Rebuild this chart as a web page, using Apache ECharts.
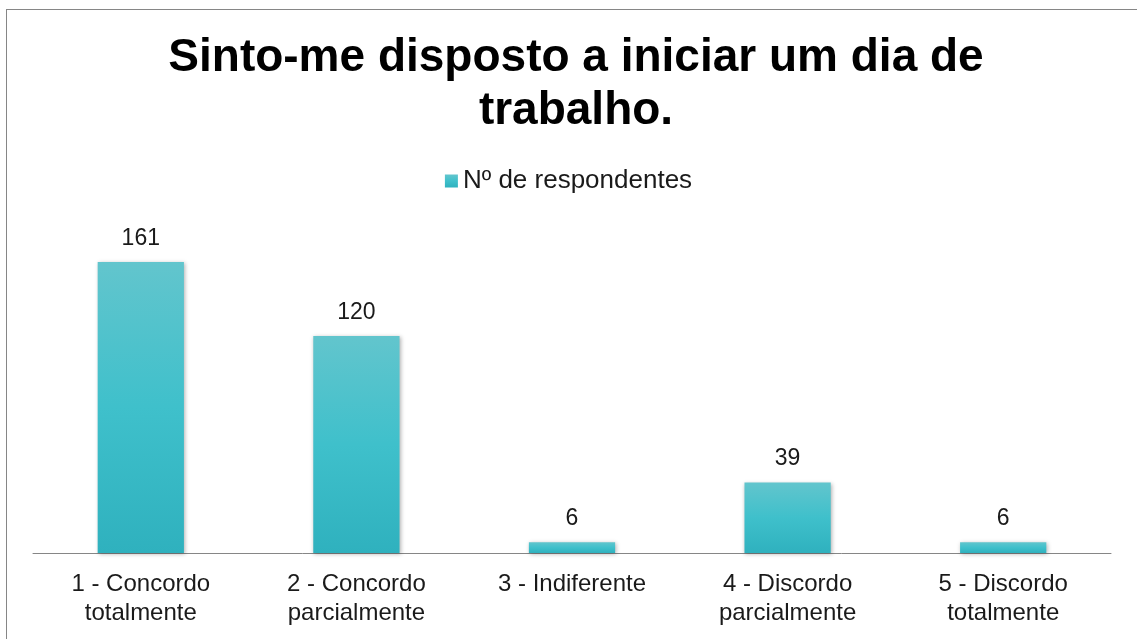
<!DOCTYPE html>
<html>
<head>
<meta charset="utf-8">
<script src="https://cdn.jsdelivr.net/npm/echarts@6/dist/echarts.min.js"></script>
<style>
  html, body { margin: 0; padding: 0; background: #fff; overflow: hidden; }
  .frame {
    position: absolute; left: 6px; top: 9px; width: 1140px; height: 640px;
    border: 1px solid #868686; box-sizing: border-box;
  }
  #chart { position: absolute; left: 0; top: 0; width: 1137px; height: 639px; }
</style>
</head>
<body>
<div class="frame"></div>
<div id="chart"></div>
<script>
// categories and values
var categories = [
  '1 - Concordo\ntotalmente',
  '2 - Concordo\nparcialmente',
  '3 - Indiferente',
  '4 - Discordo\nparcialmente',
  '5 - Discordo\ntotalmente'
];
var respondentes = [161, 120, 6, 39, 6];

var chartDom = document.getElementById('chart');
var myChart = echarts.init(chartDom);
var font = '"Liberation Sans", Arial, sans-serif';

var option = {
  animation: false,
  title: {
    text: 'Sinto-me disposto a iniciar um dia de\ntrabalho.',
    left: 571,
    top: 27,
    textAlign: 'center',
    textStyle: {
      color: '#000',
      fontFamily: font,
      fontWeight: 'bold',
      fontSize: 46,
      lineHeight: 53
    }
  },
  legend: {
    top: 163,
    left: 'center',
    itemWidth: 13,
    itemHeight: 13,
    itemGap: 6,
    icon: 'rect',
    textStyle: {
      color: '#1a1a1a',
      fontFamily: font,
      fontSize: 26
    },
    data: ['Nº de respondentes']
  },
  grid: {
    left: 33,
    right: 26,
    top: 191.5,
    bottom: 86
  },
  xAxis: {
    type: 'category',
    data: categories,
    axisTick: { show: false },
    axisLine: { lineStyle: { color: '#868686', width: 1 } },
    axisLabel: {
      color: '#1a1a1a',
      fontFamily: font,
      fontSize: 24,
      lineHeight: 29,
      margin: 17,
      interval: 0
    }
  },
  yAxis: {
    type: 'value',
    min: 0,
    max: 200,
    show: false,
    splitLine: { show: false }
  },
  series: [
    {
      name: 'Nº de respondentes',
      type: 'bar',
      barWidth: '40%',
      data: respondentes,
      itemStyle: {
        color: new echarts.graphic.LinearGradient(0, 0, 0, 1, [
          { offset: 0, color: '#62c5cd' },
          { offset: 0.5, color: '#3fc0cb' },
          { offset: 1, color: '#2fb1be' }
        ]),
        shadowColor: 'rgba(0,0,0,0.3)',
        shadowBlur: 4,
        shadowOffsetX: 1,
        shadowOffsetY: 1
      },
      label: {
        show: true,
        position: 'top',
        distance: 12,
        color: '#1a1a1a',
        fontFamily: font,
        fontSize: 23
      }
    }
  ]
};
myChart.setOption(option);
</script>
</body>
</html>
